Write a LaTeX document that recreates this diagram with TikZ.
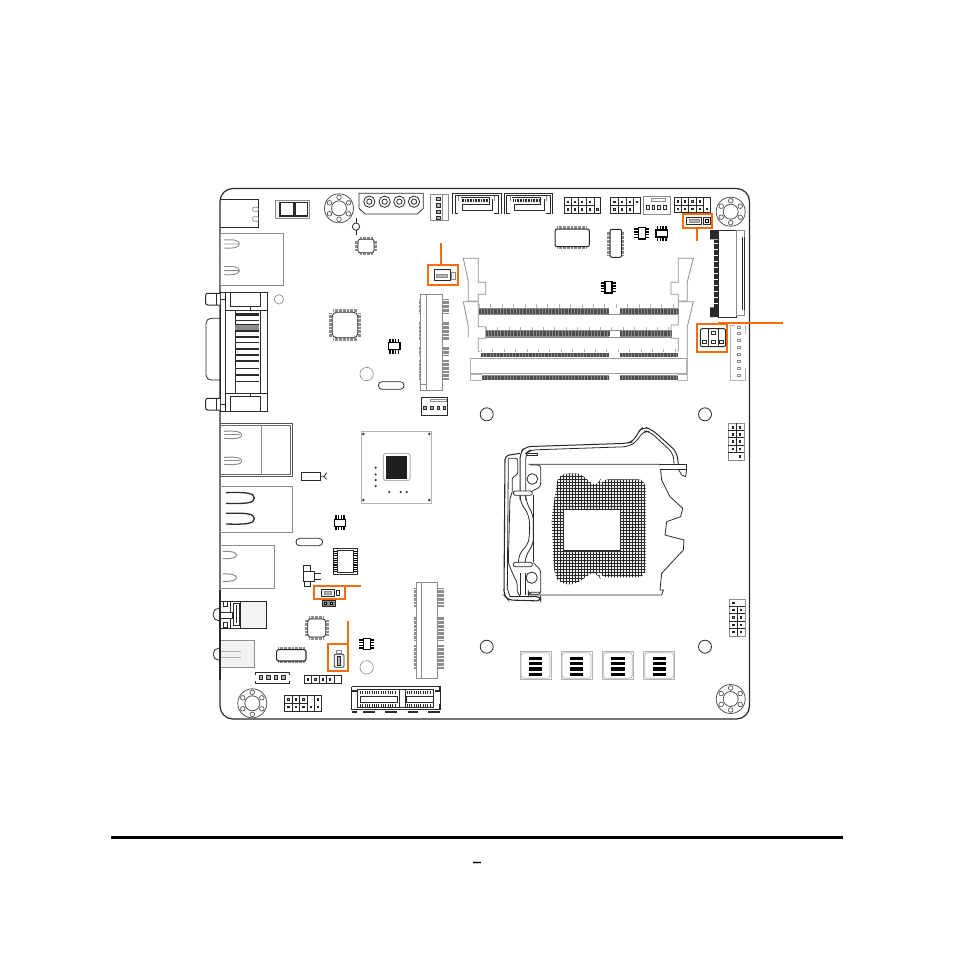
\documentclass[tikz,border=0pt]{standalone}
\usepackage{fontspec}
\newfontfamily\markfont{DejaVu Sans}
\definecolor{orng}{HTML}{F96A0B}
\definecolor{ink}{HTML}{2A2A2A}
\definecolor{midg}{HTML}{8C8C8C}
\definecolor{pale}{HTML}{B4B4B4}
\definecolor{wash}{HTML}{F2F2F2}
\tikzset{
 blk/.style={draw=ink,line width=.8pt},
 hvy/.style={draw=ink,line width=1.3pt},
 gry/.style={draw=midg,line width=.8pt},
 lgt/.style={draw=pale,line width=.8pt},
 org/.style={draw=orng,line width=1.8pt},
 zA/.style={shift={(210,180)},x=.33333pt,y=-.33333pt},
 zB/.style={shift={(480,180)},x=.33333pt,y=-.33333pt},
 zC/.style={shift={(210,420)},x=.33333pt,y=-.33333pt},
 zD/.style={shift={(480,400)},x=.33333pt,y=-.33333pt},
 zE/.style={shift={(500,420)},x=.33333pt,y=-.33333pt},
 zF/.style={shift={(200,285)},x=.33333pt,y=-.33333pt},
 zG/.style={shift={(345,680)},x=.33333pt,y=-.33333pt},
 zH/.style={shift={(215,590)},x=.33333pt,y=-.33333pt},
 zI/.style={shift={(455,250)},x=.33333pt,y=-.33333pt},
 zJ/.style={shift={(630,250)},x=.33333pt,y=-.33333pt},
 tickrow/.style={midg,line width=#1pt,dash pattern=on .4pt off .95pt},
}
% mounting hole
\newcommand{\mhole}[2]{\begin{scope}[shift={(#1,#2)}]
 \draw[draw=ink!80,line width=.8pt] (0,0) circle[radius=14.5];
 \draw[draw=ink!80,line width=.8pt] (0,0) circle[radius=7.5];
 \foreach \a in {30,90,150,210,270,330}{\draw[draw=ink!80,line width=.7pt] (\a:11) circle[radius=2.3];}
\end{scope}}
% small SOIC, legs left/right or top/bottom by rotation
\newcommand{\soicpkg}[3]{\begin{scope}[shift={(#1,#2)},rotate=#3]
 \draw[draw=black,line width=1.4pt,fill=white] (-3.5,-5.7) rectangle (3.5,5.7);
 \foreach \v in {-4.2,-1.4,1.4,4.2}{\draw[black,line width=1.5pt] (-7.5,\v)--(-3.5,\v) (3.5,\v)--(7.5,\v);}
\end{scope}}
% pin header
\newcommand{\hdrpin}[2]{\draw[draw=black!85,line width=.9pt,fill=pale] (#1-1.9,#2-1.9) rectangle (#1+1.9,#2+1.9);}
% DIMM contact row
\newcommand{\contacts}[4]{%
 \fill[midg] (#1,#3) rectangle (#2,#4);
 \draw[draw=black!70,line width=#4pt-#3pt-1pt,dash pattern=on .7pt off .75pt] (#1,#3/2+#4/2)--(#2,#3/2+#4/2);}
% SATA
\newcommand{\sataconn}[1]{\begin{scope}[zB,xshift=#1pt]
 \draw[hvy,line width=1.1pt] (73,103)--(73,40)--(218,40)--(218,103);
 \draw[blk] (90,101)--(80,101)--(80,47)--(211,47)--(211,101)--(198,101);
 \draw[gry] (90,47)--(90,62) (198,47)--(198,62);
 \draw[blk] (97,52)--(182,52)--(182,72)--(103,72)--(103,90)--(192,90)--(192,58);
 \draw[ink,line width=3pt,dash pattern=on .8pt off .8pt] (100,61)--(178,61);
\end{scope}}
\begin{document}
\begin{tikzpicture}[x=1pt,y=-1pt]
\useasboundingbox (0,0) rectangle (954,954);
\fill[white] (0,0) rectangle (954,954);
% board
\draw[draw=ink,line width=1.2pt,rounded corners=13pt] (220,188.5) rectangle (749.5,719);
\draw[draw=ink,line width=1.6pt] (232,188.5)--(737,188.5);
% ---------------- upper-left quadrant
\begin{scope}[zA]
 \draw[blk] (31,58)--(145,58)--(145,142)--(31,142);
 \draw[gry,rounded corners=1pt] (145,82) rectangle (128,94) (145,110) rectangle (128,124);
 \draw[gry,fill=wash] (197,62) rectangle (298,115);
 \draw[hvy,fill=white] (210,68) rectangle (250,108);
 \draw[hvy,fill=white] (255,68) rectangle (293,108);
 \draw[blk] (438,115)--(438,165);
 \draw[blk,fill=white] (438,140) circle[radius=11];
 \draw[blk] (447,40)--(640,40)--(640,85)--(622,102)--(465,102)--(447,85)--cycle;
 \foreach \x in {478,524,568,612}{\draw[blk] (\x,65) circle[radius=17] (\x,65) circle[radius=8];}
 \draw[gry] (662,43) rectangle (714,122) (697,43)--(697,122);
 \foreach \y in {57,76,95,113}{\draw[blk,fill=pale] (679,\y-5) rectangle (691,\y+5);}
 \draw[tickrow=2.5] (450,174) -- (488,174) (450,222)--(488,222) (440,182)--(440,214) (496,182)--(496,214);
 \draw[blk,rounded corners=2pt,fill=white] (444,178) rectangle (492,218);
 % LAN stack
 \draw[gry] (31,160) rectangle (220,315);
 \foreach \y in {192,272}{\draw[midg,line width=.9pt] (42,\y-12) .. controls (70,\y-14) and (88,\y-12) .. (88,\y) -- (42,\y) (42,\y+12) .. controls (70,\y+14) and (88,\y+10) .. (88,\y);}
 \draw[gry,dash pattern=on 1pt off .4pt] (207,358) circle[radius=14];
 % chips
 \draw[tickrow=3.5] (362,400)--(362,470) (448,400)--(448,470) (370,392)--(440,392) (370,478)--(440,478);
 \draw[blk,rounded corners=4pt,fill=white] (367,397) rectangle (443,473);
 \draw[midg,line width=.7pt,dash pattern=on 6.5pt off .8pt] (470,582) circle[radius=20];
 \draw[blk,rounded corners=3.7pt] (505,605) rectangle (582,628);
 % mini PCIe
 \draw[tickrow=3] (630,358)--(630,400) (630,425)--(630,480) (630,500)--(630,525) (630,540)--(630,600);
 \draw[tickrow=6] (707,358)--(707,400) (707,425)--(707,480) (707,500)--(707,525) (707,540)--(707,600);
 \draw[gry,fill=white] (632,342) rectangle (698,632) (650,342)--(650,632) (632,612)--(650,612);
 % 4-pin
 \draw[hvy,line width=1pt] (634,652) rectangle (712,705);
 \draw[gry] (660,657) rectangle (708,665);
 \foreach \x in {645,665,685,703}{\draw[blk,line width=1pt,fill=pale] (\x-4,678) rectangle (\x+4,688);}
 % orange
 \draw[org] (655,255) rectangle (745,316) (692,190)--(692,255);
 \draw[blk,fill=white] (672,268) rectangle (722,302);
 \draw[gry,fill=pale] (680,283) rectangle (712,292);
 \draw[gry,fill=wash] (725,277) rectangle (737,297);
\end{scope}
% VGA
\begin{scope}[zF]
 \draw[hvy,line width=1pt,fill=white] (60,22) rectangle (203,378);
 \draw[blk,rounded corners=5pt] (60,100)--(18,100)--(18,285)--(60,285);
 \draw[blk,line width=1pt,rounded corners=2pt,fill=white] (60,25)--(17,25)--(17,60)--(60,60);
 \draw[blk,line width=1pt,rounded corners=2pt,fill=white] (60,340)--(17,340)--(17,375)--(60,375);
 \draw[blk] (50,25)--(50,60) (50,340)--(50,375);
 \draw[blk,line width=1pt] (77,22)--(77,378);
 \draw[blk,line width=1pt] (60,42)--(77,42) (60,358)--(77,358);
 \draw[blk] (77,75)--(203,75) (77,325)--(203,325);
 \draw[blk,fill=white] (92,22) rectangle (180,65);
 \draw[hvy,line width=1.6pt] (92,22)--(92,65);
 \draw[blk,fill=white] (92,335) rectangle (180,378);
 \draw[hvy,line width=1.6pt] (92,335)--(92,378);
 \draw[blk] (150,65)--(150,75) (150,325)--(150,335);
 \draw[blk] (105,75)--(105,325) (180,75)--(180,325);
 \fill[ink] (106,85) rectangle (178,93);
 \fill[midg] (106,120) rectangle (178,136);
 \foreach \y in {107,118,138,156,172,192,210,228,250,270,290}{\draw[ink,line width=1.1pt] (106,\y)--(178,\y);}
\end{scope}
% ---------------- upper right
\sataconn{0}
\sataconn{-51.6}
\begin{scope}[zB]
 % header 1
 \draw[blk,line width=1pt] (252,53) rectangle (362,100);
 \foreach \x in {275,295,318,342}{\draw[blk,line width=1pt] (\x,53)--(\x,100);}
 \draw[blk,line width=1pt] (252,77)--(342,77);
 \foreach \x in {264,285,306,330}{\hdrpin{\x}{65}\hdrpin{\x}{88}}
 \hdrpin{352}{88}
 % header 2
 \draw[blk,line width=1pt] (392,53) rectangle (480,100);
 \foreach \x in {415,438,460}{\draw[blk,line width=1pt] (\x,53)--(\x,100);}
 \draw[blk,line width=1pt] (392,77)--(460,77);
 \foreach \x in {403,426,449}{\hdrpin{\x}{65}\hdrpin{\x}{88}}
 \hdrpin{470}{65}
 % 4-pin
 \draw[gry] (490,50) rectangle (572,102);
 \draw[gry] (515,55) rectangle (555,65);
 \foreach \x in {503,520,537,555}{\draw[blk,fill=wash] (\x-4,77) rectangle (\x+4,87);}
 % header 3
 \draw[blk,line width=1pt] (582,52) rectangle (692,98);
 \foreach \x in {605,625,648,670}{\draw[blk,line width=1pt] (\x,52)--(\x,98);}
 \draw[blk,line width=1pt] (582,76)--(670,76);
 \foreach \x in {594,615,637,659}{\hdrpin{\x}{64}\hdrpin{\x}{87}}
 \hdrpin{681}{87}
 % orange top
 \draw[org] (608,103) rectangle (695,143) (650,143)--(650,183);
 \draw[blk,line width=1pt,fill=white] (620,113) rectangle (665,133);
 \draw[gry,fill=pale] (627,118) rectangle (658,128);
 \draw[blk,line width=1pt,fill=wash] (670,113) rectangle (690,133);
 \draw[black,line width=.7pt] (676,119) rectangle (684,127);
 % chips
 \draw[tickrow=2.5] (232,143)--(320,143) (232,203)--(320,203);
 \draw[blk,line width=1pt,rounded corners=2pt,fill=white] (225,147) rectangle (328,200);
 \draw[tickrow=2.5] (386,155)--(386,225) (429,155)--(429,225);
 \draw[blk,line width=1pt,rounded corners=2pt,fill=white] (390,148) rectangle (425,232);
 % FFC
 \draw[ink,line width=4pt,dash pattern=on .5pt off .7pt] (707,180)--(707,382);
 \fill[ink] (690,150) rectangle (715,178) (690,382) rectangle (715,411);
 \draw[blk,line width=1pt,fill=white] (714,150) rectangle (770,411);
 \draw[gry] (770,152) rectangle (794,407);
 \draw[blk] (786,170)--(786,390) (792,170)--(792,390);
 % headers right of DIMM
 \draw[org] (650,431) rectangle (742,515) (715,429)--(910,429);
 \draw[blk,line width=1pt,rounded corners=2pt] (661,446) rectangle (737,500);
 \draw[blk] (686,446)--(686,500) (714,446)--(714,500);
 \foreach \p in {(674,486),(700,459),(700,486),(725,486)}{\path \p node[draw=ink,line width=.9pt,fill=white,minimum size=3.5pt,inner sep=0pt] {};}
 % long pin strip
 \draw[lgt] (797,435)--(797,462) (797,565)--(797,601)--(752,601)--(752,435)--(765,435);
 \foreach \y in {442,461,481,502,522,543,565,586}{\draw[midg,line width=.8pt] (772,\y-3) rectangle (781,\y+3);}
\end{scope}
\soicpkg{641.7}{233.3}{0}
\soicpkg{661.7}{233.3}{90}
\soicpkg{608.3}{287.3}{0}
\soicpkg{394.3}{346}{90}
\soicpkg{340}{522.7}{90}
\soicpkg{366.7}{644}{0}
\mhole{730.7}{211.7}
\mhole{339}{208.3}
\mhole{252.3}{703.3}
\mhole{730.7}{699}
% DIMM
\contacts{479}{609.3}{308.3}{314}
\contacts{620}{678.3}{308.3}{314}
\contacts{486}{609.3}{330.5}{336.7}
\contacts{620}{671.7}{330.5}{336.7}
\contacts{480.7}{609.3}{352.5}{357.3}
\contacts{620}{676.7}{352.5}{357.3}
\contacts{481.7}{609.3}{375.3}{380}
\contacts{620}{676.7}{375.3}{380}
\draw[pale,line width=3.5pt,dash pattern=on .4pt off 11pt] (479,306)--(678,306) (486,328.5)--(672,328.5) (481,350.5)--(677,350.5);
\draw[midg,line width=.8pt] (479,314.5)--(678,314.5) (486,330)--(671.7,330) (486,337)--(671.7,337);
\begin{scope}[zI]
 \draw[gry] (25,25)--(70,25)--(70,97)--(92,97)--(92,133)--(70,133)--(70,153)--(40,153)--(40,95)--cycle;
 \draw[gry] (70,155)--(25,155)--(40,230)--(40,262) (70,155)--(70,230)--(92,230)--(92,265)--(70,265)--(70,305);
 \draw[lgt] (45,325)--(45,372)--(80,372) (45,392)--(45,375) (45,392)--(80,392) (70,305)--(75,305);
\end{scope}
\begin{scope}[zJ]
 \draw[gry] (145,25)--(190,25)--(172,95)--(172,153)--(145,153)--(145,133)--(123,133)--(123,97)--(145,97)--cycle;
 \draw[gry] (145,155)--(190,155)--(172,230)--(172,325) (145,155)--(145,225)--(123,225)--(123,265)--(145,265)--(145,305);
 \draw[lgt] (172,325)--(172,392)--(140,392) (168,325)--(168,372)--(140,372);
\end{scope}
\draw[lgt,draw=midg!80] (470,358.5)--(686.7,358.5) (470,373.3)--(686.7,373.3);
% holes
\foreach \x/\y in {486.7/414.3,705/414.3,486.7/646.7,705/646.7}{\draw[blk] (\x,\y) circle[radius=6.5];}
% ---------------- CPU socket
\begin{scope}[zD]
 \begin{scope}
  \clip[rounded corners=8pt] (235,222)--(310,220)--(330,255)--(360,255)--(362,238)--(497,238)--(497,532)--(360,532)--(355,517)--(325,520)--(295,552)--(240,553)--(222,520)--(215,350)--cycle;
  \fill[wash] (205,210) rectangle (505,565);
  \foreach \x in {215,224,...,500}{\draw[ink,line width=.7pt] (\x,215)--(\x,560);}
  \foreach \y in {220,229,...,560}{\draw[ink,line width=.7pt] (210,\y)--(500,\y);}
 \end{scope}
 \draw[blk,fill=white] (250,328) rectangle (420,452);
 % socket body
 \draw[blk] (145,193)--(540,193)--(545,240)--(570,290)--(608,325)--(602,350)--(560,365)--(555,405)--(612,420)--(610,450)--(545,520)--(540,570)--(550,570)--(545,585)--(145,585);
 % lever end
 \draw[blk,fill=white] (540,193)--(620,193)--(620,207)--(540,207);
 \draw[blk] (595,207)--(605,225)--(617,230)--(620,207);
\end{scope}
\begin{scope}[zE]
 % lever
 \draw[hvy,line width=1pt,rounded corners=6pt] (60,240)--(60,100)--(75,80)--(380,70)--(400,65)--(415,35)--(430,20)--(455,28)--(530,95)--(535,132);
 \draw[blk,rounded corners=6pt] (77,240)--(77,100)--(90,90)--(385,80)--(410,65)--(430,32)--(450,35)--(520,100)--(522,132);
 \draw[blk] (60,460)--(60,526) (77,460)--(77,526);
 % latch frame
 \draw[hvy,line width=1.1pt,rounded corners=4pt] (60,100)--(15,107)--(12,525)--(25,540)--(122,543)--(122,530)--(30,530);
 \draw[blk,rounded corners=2pt] (25,115)--(53,115)--(53,165)--(37,170)--(37,220)--(30,230)--(25,430)--(40,465)--(52,490)--(52,520)--(60,527);
 \draw[blk] (25,115)--(22,505)--(30,530);
 % springs and clips
 \draw[blk,rounded corners=2pt,fill=white] (40,213)--(97,213)--(97,226)--(40,226)--cycle;
 \draw[blk,rounded corners=2pt,fill=white] (40,427)--(97,427)--(97,440)--(40,440)--cycle;
 \draw[blk,rounded corners=6pt] (60,226)--(62,250)--(85,280)--(90,320)--(85,375)--(60,395)--(55,427);
 \draw[blk,rounded corners=6pt] (77,226)--(80,250)--(100,285)--(100,375)--(80,400)--(75,427);
 \draw[blk] (100,226)--(100,427);
 \draw[blk,fill=white] (97,177) circle[radius=16];
 \draw[blk,fill=white] (95,473) circle[radius=17];
 \draw[blk,rounded corners=3pt] (90,135)--(122,135)--(122,200)--(97,213);
 \draw[blk,rounded corners=3pt] (100,428)--(122,450)--(122,523)--(85,523)--(85,517)--(122,517);
 \draw[blk] (80,100)--(113,100)--(113,107)--(80,107)--cycle;
\end{scope}
% right headers
\begin{scope}[zD]
 \draw[gry] (745,70) rectangle (793,180);
 \draw[blk] (769,70)--(769,160);
 \foreach \y in {92,113,135,158}{\draw[blk] (745,\y)--(793,\y);}
 \foreach \y in {82,103,124,146}{\hdrpin{758}{\y}\hdrpin{780}{\y}}
 \hdrpin{780}{169}
 \draw[gry] (748,598) rectangle (795,708);
 \draw[blk] (771,619)--(771,708);
 \foreach \y in {619,641,663,685}{\draw[blk] (748,\y)--(795,\y);}
 \hdrpin{760}{609}
 \foreach \y in {630,652,674,695}{\hdrpin{760}{\y}\hdrpin{782}{\y}}
 % MOSFETs
 \foreach \x in {120,243,367,491}{
  \draw[lgt,line width=1pt] (\x,755) rectangle (\x+93,838);
  \draw[lgt,rounded corners=3pt] (\x+3,758) rectangle (\x+90,835);
  \foreach \y in {770,786,802,818}{\fill[black] (\x+27,\y) rectangle (\x+67,\y+10);}
 }
\end{scope}
% ---------------- lower left
\begin{scope}[zC]
 \draw[hvy,line width=1pt,draw=ink!80] (31,10)--(248,10)--(248,168)--(31,168);
 \draw[blk,draw=ink!70] (240,15)--(240,163)--(31,163);
 \draw[blk,draw=ink!70] (31,15)--(240,15);
 \draw[blk,draw=midg] (155,15)--(155,163);
 \foreach \y in {45,123}{\draw[midg,line width=1pt] (42,\y-11) .. controls (80,\y-13) and (95,\y-10) .. (95,\y) .. controls (95,\y+10) and (80,\y+12) .. (42,\y+10);\draw[midg,line width=.8pt] (42,\y-2)--(90,\y-2);}
 \draw[blk,line width=1pt] (273,158) rectangle (332,180);
 \draw[blk] (332,170)--(342,170)--(350,158) (342,170)--(350,178);
 \draw[gry,line width=1pt] (31,200)--(248,200)--(248,338)--(31,338);
 \foreach \y in {234,296}{\draw[ink,line width=1.3pt] (48,\y-16) .. controls (110,\y-18) and (133,\y-15) .. (133,\y) .. controls (133,\y+15) and (110,\y+18) .. (48,\y+16);}
 \draw[gry] (31,376)--(193,376)--(193,505)--(31,505);
 \foreach \y in {405,473}{\draw[midg,line width=1pt] (38,\y-11) .. controls (60,\y-13) and (80,\y-8) .. (80,\y) .. controls (80,\y+8) and (60,\y+13) .. (38,\y+11);}
 \draw[blk,rounded corners=3.6pt] (258,355) rectangle (338,377);
 % PCH
 \draw[lgt,line width=1pt] (455,35) rectangle (665,250);
 \foreach \p in {(460,42),(658,42),(460,240),(658,240)}{\fill[ink] \p circle[radius=4];}
 \draw[lgt,line width=1pt,rounded corners=2.5pt] (520,100) rectangle (600,182);
 \fill[black!88] (527,108) rectangle (592,176);
 \foreach \p in {(497,143),(497,163),(497,180),(497,198),(538,216),(572,216),(590,216)}{\fill[ink] \p circle[radius=3.5];}
 % QFN
 \draw[hvy,line width=1.2pt,fill=white] (370,385) rectangle (442,463);
 \draw[black,line width=3.5pt,dash pattern=on 1.1pt off 1.2pt] (375,392)--(375,458) (437,392)--(437,458);
 \draw[blk] (382,390) rectangle (430,458);
 % T part
 \draw[blk,line width=1pt,fill=white] (280,435) rectangle (302,455) (280,455) rectangle (312,485) (282,485) rectangle (302,498);
 \draw[blk,line width=1pt] (312,460)--(332,460) (312,478)--(332,478);
 % orange 2
 \draw[org] (312,498) rectangle (405,538) (405,498)--(452,498);
 \draw[blk,fill=wash] (335,508) rectangle (373,530);
 \draw[gry,fill=pale] (343,515) rectangle (365,523);
 \draw[blk,fill=white] (378,510) rectangle (387,527);
 \draw[blk,fill=midg] (336,540) rectangle (375,558);
 \foreach \x in {346,365}{\draw[black,line width=.8pt,fill=white] (\x-3.5,546) rectangle (\x+3.5,553);}
 % LQFP
 \draw[tickrow=3] (288,600)--(288,648) (352,600)--(352,648) (298,592)--(342,592) (298,656)--(342,656);
 \draw[blk,rounded corners=3pt,fill=white] (293,597) rectangle (347,651);
 \draw[midg,line width=.7pt,dash pattern=on 6.5pt off .8pt] (470,742) circle[radius=20];
 \draw[tickrow=2.5] (205,686)--(284,686) (205,725)--(284,725);
 \draw[hvy,line width=1.1pt,rounded corners=2pt,fill=white] (200,689) rectangle (288,723);
 % orange 3
 \draw[org] (353,671) rectangle (413,752) (413,603)--(413,671);
 \draw[gry,fill=white] (380,690) rectangle (395,700);
 \draw[blk,fill=wash,rounded corners=1pt] (373,703) rectangle (402,742);
 \draw[blk,fill=pale] (383,708) rectangle (392,736);
 % mini PCIe lower
 \draw[tickrow=2.5] (615,505)--(615,560) (615,590)--(615,660) (615,675)--(615,745);
 \draw[tickrow=6] (692,505)--(692,560) (692,590)--(692,660) (692,675)--(692,745);
 \draw[gry,fill=white] (618,488) rectangle (683,775) (635,488)--(635,775);
 % fan connector
 \draw[blk,line width=1pt] (137,765)--(137,758)--(237,758)--(237,765) (137,783)--(137,790)--(237,790)--(237,783);
 \foreach \x in {152,175,197,220}{\draw[blk,line width=1pt,fill=pale] (\x-5,767) rectangle (\x+5,778);}
 % header strip
 \draw[blk,line width=1pt] (283,766) rectangle (393,790);
 \foreach \x in {305,327,349,372}{\draw[blk,line width=1pt] (\x,766)--(\x,790);}
 \foreach \x in {294,316,338,360}{\hdrpin{\x}{778}}
 % bottom header
 \draw[blk,line width=1pt] (223,826) rectangle (335,873);
 \foreach \x in {246,268,291,313}{\draw[blk,line width=1pt] (\x,826)--(\x,873);}
 \draw[blk,line width=1pt] (223,850)--(291,850);
 \foreach \x in {235,257,280,324}{\hdrpin{\x}{838}\hdrpin{\x}{861}}
 \hdrpin{302}{861}
\end{scope}
% jacks
\begin{scope}[zH]
 \draw[hvy,line width=1pt,fill=wash] (15,33) rectangle (155,115);
 \draw[blk,fill=white] (15,33) rectangle (75,115);
 \draw[blk,line width=1pt] (45,33)--(45,115);
 \draw[hvy,line width=1.6pt] (65,45)--(65,100);
 \draw[blk] (55,40) rectangle (72,105);
 \draw[blk,fill=white] (15,68) rectangle (52,85);
 \draw[blk,rounded corners=5pt,fill=white] (15,55)--(-5,55)--(-5,92)--(15,92);
 \draw[blk] (25,35) rectangle (38,50) (25,97) rectangle (38,112);
 \draw[gry,line width=1pt,fill=wash] (15,150) rectangle (118,232);
 \draw[pale,line width=.8pt] (15,185)--(78,185) (15,202)--(78,202);
 \draw[blk,rounded corners=5pt,fill=white] (15,175)--(-5,175)--(-5,210)--(15,210);
\end{scope}
\draw[draw=ink,line width=1.2pt] (220,590)--(220,680);
% bottom connector
\begin{scope}[zG]
 \draw[hvy,line width=1.2pt] (20,20)--(285,20)--(285,33)--(270,33) (20,20)--(20,33)--(35,33);
 \draw[hvy,line width=1.2pt] (20,72)--(20,88)--(285,88)--(285,72);
 \draw[blk] (20,33)--(20,72) (285,33)--(285,72);
 \draw[blk] (38,28)--(265,28)--(265,82)--(38,82)--cycle;
 \foreach \xa/\xb in {45/150,185/258}{
   \draw[ink,line width=3pt,dash pattern=on 1pt off 1.3pt] (\xa,37)--(\xb,37) (\xa,75)--(\xb,75);
   \draw[blk,fill=white] (\xa,50) rectangle (\xb+8,67);}
 \draw[blk,fill=white] (163,28) rectangle (180,82);
 \foreach \xa/\xb in {22/35,55/90,120/155,190/220,250/285}{\draw[hvy] (\xa,96)--(\xb,96);}
\end{scope}
% footer
\fill[black] (111,835.7) rectangle (843,838.5);
\node (pagemark) at (477,865) [font=\markfont\fontsize{20}{20}\selectfont,inner sep=0pt] {–};
\end{tikzpicture}
\end{document}
